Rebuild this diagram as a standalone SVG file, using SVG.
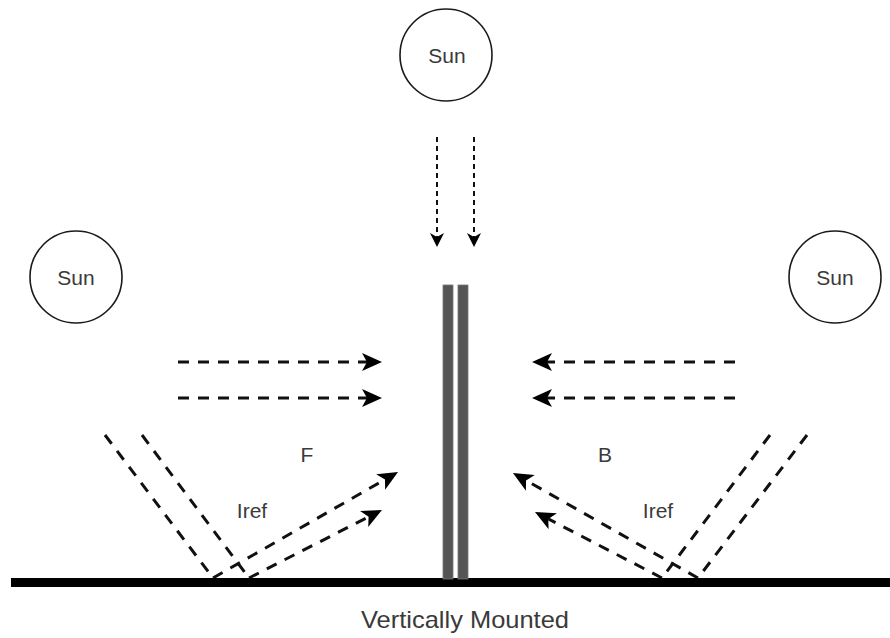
<svg xmlns="http://www.w3.org/2000/svg" width="890" height="638" viewBox="0 0 890 638">
<defs>
<style>
.sun{fill:#fff;stroke:#1a1a1a;stroke-width:1.6}
.lbl{font-family:"Liberation Sans",Arial,sans-serif;font-size:21px;fill:#3a3a3a;text-anchor:middle}
.ray{fill:none;stroke:#111;stroke-width:3;stroke-dasharray:11 9}
.ray2{fill:none;stroke:#111;stroke-width:2;stroke-dasharray:5 4}
.bar{fill:#555;stroke:#777;stroke-width:0.8}
</style>
<marker id="ah" markerUnits="userSpaceOnUse" markerWidth="22" markerHeight="20" refX="5" refY="9" orient="auto" viewBox="0 0 22 18">
<path d="M0,0 L20,9 L0,18 L5,9 Z" fill="#000"/>
</marker>
<marker id="ahs" markerUnits="userSpaceOnUse" markerWidth="16" markerHeight="16" refX="4" refY="7" orient="auto" viewBox="0 0 16 14">
<path d="M0,0 L14,7 L0,14 L4,7 Z" fill="#000"/>
</marker>
</defs>
<rect width="890" height="638" fill="#fff"/>
<g id="connectors">
<line class="ray2" x1="437" y1="137" x2="437" y2="237" marker-end="url(#ahs)"/>
<line class="ray2" x1="474" y1="137" x2="474" y2="237" marker-end="url(#ahs)"/>
<line class="ray" x1="178" y1="362" x2="367" y2="362" marker-end="url(#ah)"/>
<line class="ray" x1="178" y1="398" x2="367" y2="398" marker-end="url(#ah)"/>
<line class="ray" x1="735" y1="362" x2="547" y2="362" marker-end="url(#ah)"/>
<line class="ray" x1="735" y1="398" x2="547" y2="398" marker-end="url(#ah)"/>
<line class="ray" x1="105" y1="435" x2="213" y2="578"/>
<line class="ray" x1="142" y1="435" x2="249" y2="578"/>
<line class="ray" x1="213" y1="578" x2="385" y2="479.5" marker-end="url(#ah)"/>
<line class="ray" x1="249" y1="578" x2="368.6" y2="516.8" marker-end="url(#ah)"/>
<line class="ray" x1="770" y1="435" x2="662" y2="578"/>
<line class="ray" x1="807" y1="435" x2="698" y2="578"/>
<line class="ray" x1="698" y1="578" x2="526" y2="480.4" marker-end="url(#ah)"/>
<line class="ray" x1="662" y1="578" x2="548.3" y2="518.9" marker-end="url(#ah)"/>
</g>
<g id="sun-top"><circle class="sun" cx="446" cy="55" r="46"/><text class="lbl" x="447" y="63">Sun</text></g>
<g id="sun-left"><circle class="sun" cx="76" cy="277" r="46"/><text class="lbl" x="76" y="285">Sun</text></g>
<g id="sun-right"><circle class="sun" cx="835" cy="277" r="46"/><text class="lbl" x="835" y="285">Sun</text></g>
<g id="ground"><rect x="11" y="578" width="879" height="9" fill="#000"/></g>
<g id="panel">
<rect class="bar" x="443" y="285" width="10" height="294"/>
<rect class="bar" x="458" y="285" width="10" height="294"/>
</g>
<g id="label-F"><text class="lbl" x="307" y="462">F</text></g>
<g id="label-B"><text class="lbl" x="605" y="462">B</text></g>
<g id="label-iref-left"><text class="lbl" x="252" y="518">Iref</text></g>
<g id="label-iref-right"><text class="lbl" x="658" y="518">Iref</text></g>
<g id="caption"><text class="lbl" x="465" y="628" style="font-size:24px" textLength="208" lengthAdjust="spacingAndGlyphs">Vertically Mounted</text></g>
</svg>
